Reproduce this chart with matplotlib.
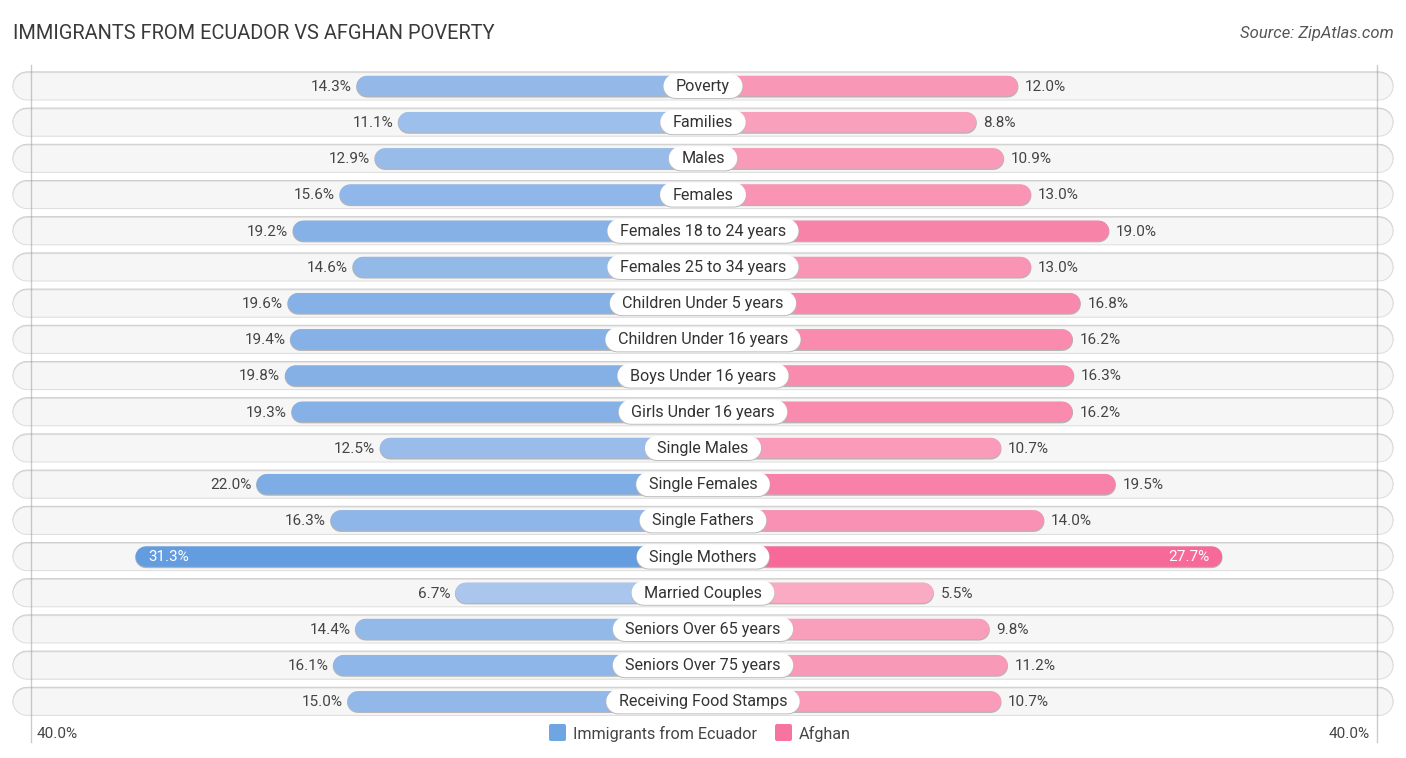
import matplotlib
matplotlib.use('Agg')
import matplotlib.pyplot as plt
from matplotlib.patches import FancyBboxPatch

plt.rcParams['font.family'] = ['Roboto', 'DejaVu Sans']

categories = ['Poverty', 'Families', 'Males', 'Females', 'Females 18 to 24 years',
              'Females 25 to 34 years', 'Children Under 5 years', 'Children Under 16 years',
              'Boys Under 16 years', 'Girls Under 16 years', 'Single Males', 'Single Females',
              'Single Fathers', 'Single Mothers', 'Married Couples', 'Seniors Over 65 years',
              'Seniors Over 75 years', 'Receiving Food Stamps']
ecuador = [14.3, 11.1, 12.9, 15.6, 19.2, 14.6, 19.6, 19.4, 19.8, 19.3, 12.5, 22.0, 16.3, 31.3, 6.7, 14.4, 16.1, 15.0]
afghan = [12.0, 8.8, 10.9, 13.0, 19.0, 13.0, 16.8, 16.2, 16.3, 16.2, 10.7, 19.5, 14.0, 27.7, 5.5, 9.8, 11.2, 10.7]

W, H = 1406, 758
CX = 703
OFFSET_L = 160.5   # bars start behind the centre labels
OFFSET_R = 159
SCALE = 13.0       # px per percent
Y0 = 86.0
STEP = 36.2


def pill(ax, x0, x1, yc, h, color, z):
    # thick line with round caps gives true semicircle ends
    r = h / 2
    ax.plot([x0 + r, x1 - r], [yc, yc], color=color, lw=h * 0.72, solid_capstyle='round',
            zorder=z, snap=False)


def mix(c0, c1, t):
    return tuple((a + (b - a) * t) / 255 for a, b in zip(c0, c1))


def shade(v, light, dark):
    # stronger colour for larger values
    return mix(light, dark, min(max((v - 5.5) / 25.8, 0), 1))


fig = plt.figure(figsize=(W / 100, H / 100), dpi=100)
ax = fig.add_axes([0, 0, 1, 1])
ax.set_xlim(0, W)
ax.set_ylim(H, 0)
ax.axis('off')

fig.text(13 / W, 1 - 33.5 / H, 'IMMIGRANTS FROM ECUADOR VS AFGHAN POVERTY', fontsize=14.42,
         color='#3a3a3a', va='center', ha='left')
fig.text(1394 / W, 1 - 33.5 / H, 'Source: ZipAtlas.com', fontsize=11.95, style='italic',
         color='#555555', va='center', ha='right')

renderer = fig.canvas.get_renderer()

for i, cat in enumerate(categories):
    y = Y0 + i * STEP
    # track: grey top edge, light outline, pale fill
    pill(ax, 12.5, 1393.5, y - 0.3, 28.6, '#c8c8c8', 1)
    pill(ax, 12.5, 1393.5, y + 0.3, 28.4, '#dedede', 1.5)
    pill(ax, 13.5, 1392.5, y + 0.3, 26.4, '#f6f6f6', 2)

    # bars
    left = CX - (OFFSET_L + SCALE * ecuador[i])
    right = CX + (OFFSET_R + SCALE * afghan[i])
    pill(ax, left - 0.5, CX, y + 0.8, 21.5, '#b4b4b4', 3)
    pill(ax, CX, right + 0.5, y + 0.8, 21.5, '#b4b4b4', 3)
    pill(ax, left, CX, y, 20.5, shade(ecuador[i], (173, 200, 238), (99, 157, 224)), 4)
    pill(ax, CX, right, y, 20.5, shade(afghan[i], (250, 170, 195), (245, 95, 145)), 4)

    # centre label
    t = ax.text(CX, y + 0.5, cat, fontsize=11.6, color='#333333', ha='center', va='center', zorder=8)
    hw = t.get_window_extent(renderer).width / 2 + 12.5
    pill(ax, CX - hw - 0.5, CX + hw + 0.5, y + 0.9, 24, '#bbbbbb', 6)
    pill(ax, CX - hw, CX + hw, y, 24, 'white', 7)

    # value labels
    if ecuador[i] > 30:
        ax.text(left + 13, y + 0.8, f'{ecuador[i]:.1f}%', fontsize=11, color='white', ha='left', va='center', zorder=8)
    else:
        ax.text(left - 5, y + 0.8, f'{ecuador[i]:.1f}%', fontsize=11, color='#444444', ha='right', va='center', zorder=8)
    if afghan[i] > 25:
        ax.text(right - 13, y + 0.8, f'{afghan[i]:.1f}%', fontsize=11, color='white', ha='right', va='center', zorder=8)
    else:
        ax.text(right + 7, y + 0.8, f'{afghan[i]:.1f}%', fontsize=11, color='#444444', ha='left', va='center', zorder=8)

# axis lines at +/-40%
for xv in (30.5, 1376.5):
    ax.plot([xv, xv], [65, 742], color='#999999', alpha=0.5, lw=1, zorder=5)

ax.text(37, 734, '40.0%', fontsize=11, color='#444444', ha='left', va='center')
ax.text(1370, 734, '40.0%', fontsize=11, color='#444444', ha='right', va='center')

# legend
for x0, name, col, tx in ((549, 'Immigrants from Ecuador', '#6fa5e3', 573), (775, 'Afghan', '#f774a0', 799)):
    ax.add_patch(FancyBboxPatch((x0, 724), 17, 17, boxstyle='round,pad=0,rounding_size=2', fc=col, ec='none'))
    ax.text(tx, 733.5, name, fontsize=11.6, color='#444444', ha='left', va='center')

fig.savefig('out.png', dpi=100)
